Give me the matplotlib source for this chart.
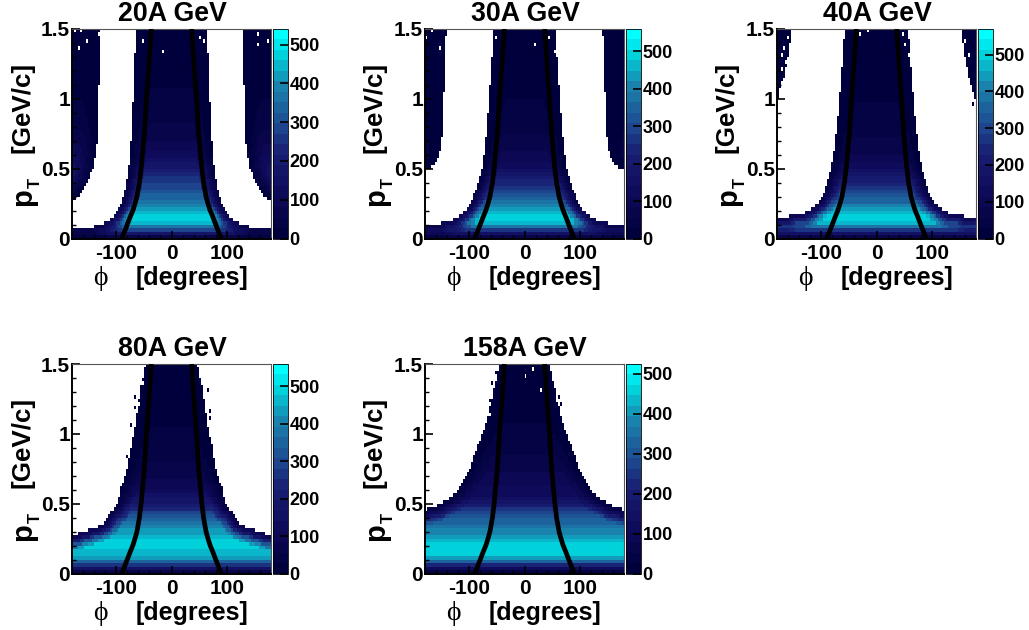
import numpy as np
import matplotlib
matplotlib.use("Agg")
import matplotlib.pyplot as plt
from matplotlib.colors import LinearSegmentedColormap, BoundaryNorm, ListedColormap

plt.rcParams['font.family'] = ['Liberation Sans', 'DejaVu Sans']
plt.rcParams['font.weight'] = 'bold'
plt.rcParams['axes.unicode_minus'] = False

titles = ["20A GeV", "30A GeV", "40A GeV", "80A GeV", "158A GeV"]
z_max = [540, 560, 570, 560, 525]

# bin size of the histogram cells
phi_bins = 100
pt_bins = 60

# density along pT in the central part, one value per 0.025 GeV/c row
profile_20 = [60, 170, 280, 370, 450, 480, 480, 440, 410, 385, 360, 340, 325, 310, 295, 280, 265, 250, 230, 210,
              185, 165, 145, 125, 110, 100, 92, 85, 78, 72, 66, 61, 56, 52, 48, 45, 42, 39, 36, 34,
              32, 30, 28, 26, 24, 23, 21, 20, 18, 17, 16, 14, 13, 12, 11, 10, 9, 8, 7, 7]
profile_30 = [60, 160, 270, 370, 460, 500, 500, 470, 430, 395, 365, 340, 310, 290, 270, 250, 230, 210, 185, 160,
              135, 120, 105, 95, 87, 80, 74, 68, 63, 58, 53, 49, 45, 42, 39, 36, 34, 32, 30, 28,
              26, 24, 23, 21, 20, 18, 17, 16, 15, 14, 13, 12, 11, 10, 9, 8, 7, 7, 6, 6]
profile_40 = [60, 170, 280, 380, 460, 500, 510, 480, 440, 400, 370, 345, 315, 290, 270, 250, 225, 205, 175, 150,
              130, 115, 100, 90, 82, 75, 70, 65, 60, 56, 52, 48, 44, 41, 38, 35, 33, 31, 29, 27,
              25, 24, 22, 21, 19, 18, 17, 16, 15, 14, 13, 12, 11, 10, 9, 8, 7, 7, 6, 6]
profile_80 = [60, 150, 260, 360, 420, 450, 470, 480, 490, 480, 460, 440, 420, 395, 370, 340, 310, 280, 250, 220,
              195, 170, 140, 120, 105, 95, 87, 80, 74, 68, 63, 58, 54, 50, 47, 44, 41, 38, 35, 33,
              31, 29, 27, 25, 23, 22, 20, 19, 17, 16, 15, 14, 13, 12, 11, 10, 9, 8, 8, 7]
profile_158 = [50, 130, 230, 330, 410, 450, 470, 470, 450, 420, 400, 385, 370, 355, 335, 315, 295, 270, 240, 200,
               170, 145, 130, 118, 108, 100, 93, 86, 80, 74, 68, 63, 58, 54, 50, 46, 43, 40, 37, 35,
               32, 30, 28, 26, 24, 22, 21, 19, 18, 16, 15, 14, 13, 12, 11, 10, 9, 8, 8, 7]

# half width of the central acceptance per row, 181 means the whole row is filled
inner_20 = [181, 181, 181, 140, 122, 112, 105, 100, 96, 93, 91, 89, 87, 85.5, 84, 83, 82, 81, 80, 79,
            78, 77, 76.5, 76, 75.5, 75, 74.5, 74, 73.5, 73, 73, 72.5, 72, 72, 71.5, 71, 71, 70.5, 70.5, 70,
            70, 69.5, 69.5, 69, 69, 68.5, 68.5, 68, 68, 67.5, 67.5, 67, 67, 66.5, 66.5, 66, 66, 65.5, 65.5, 65]
inner_30 = [181, 181, 181, 181, 150, 128, 118, 111, 106, 102, 98, 95, 92, 89.5, 87, 85, 83, 81.5, 80, 78.5,
            77, 76, 75, 74, 73, 72.5, 72, 71, 70.5, 70, 69.5, 69, 68.5, 68, 67.5, 67, 66.5, 66, 65.5, 65,
            65, 64.5, 64, 63.5, 63, 62.5, 62, 61.5, 61, 60.5, 60, 59.5, 59, 58.5, 58, 57.5, 57, 57, 56.5, 56]
inner_40 = [181, 181, 181, 181, 181, 181, 160, 130, 118, 110, 105, 101, 98, 95, 92.5, 90, 88.5, 87, 85.5, 84,
            83, 81.5, 80, 79, 78, 77, 76, 75, 74.5, 74, 73, 72.5, 72, 71, 70.5, 70, 69.5, 69, 68.5, 68,
            67.5, 67, 66.5, 66, 65.5, 65, 64.5, 64, 63.5, 63, 62.5, 62, 61.5, 61, 60.5, 60, 59.5, 59, 58.5, 58]
inner_80 = [181, 181, 181, 181, 181, 181, 181, 181, 181, 181, 181, 170, 150, 132, 124, 118, 114, 110, 106, 102,
            99, 97, 95, 93, 92, 89, 87, 85, 84, 82, 81, 79, 78, 77, 75, 74, 73, 72, 71, 70,
            68, 67, 66, 65, 65, 64, 63, 62, 62, 60, 59, 58, 56, 56, 54, 53, 52, 51, 49, 47]
inner_158 = [181, 181, 181, 181, 181, 181, 181, 181, 181, 181, 181, 181, 181, 181, 181, 181, 181, 181, 175, 160,
             147, 137, 128, 123, 119, 115, 111, 107, 104, 102, 99, 97, 95, 92, 90, 88, 85, 83, 80, 78,
             76, 73, 71, 69, 67, 66, 65, 64, 62, 60, 59, 57, 56, 55, 53, 52, 51, 50, 48, 46]

# where the outer wings start per row (top rows only, counted from the top end of the list)
outer_20 = [172, 166, 161, 157, 154, 151, 148, 146, 144, 142, 140, 139, 138, 137, 136, 135.5, 135, 134, 134, 133.5,
            133, 133, 133, 132.5, 132.5, 132.5, 132, 132, 132, 132, 131.5, 131.5, 131.5, 131, 131, 131, 131, 130.5, 130.5, 130.5,
            130.5, 130.5, 130, 130, 130, 130, 130, 130, 130]
outer_30 = [168, 163, 159, 156, 154, 152, 151, 150, 149.5, 149, 148.5, 148, 148, 147.5, 147.5, 147, 147, 146.5, 146.5, 146,
            146, 146, 145.5, 145.5, 145, 145, 144.5, 144.5, 144, 144, 144, 143.5, 143.5, 143, 143, 143, 142.5, 142.5, 142, 142]
outer_40 = [178, 176, 174, 172, 170, 168, 166, 165, 164, 163, 162, 161, 160, 159, 158, 157, 156, 155, 154, 154]
outer_80 = []
outer_158 = []

# density in the wings, same rows as the outer lists
wing_20 = [60, 80, 100, 120, 135, 145, 150, 150, 145, 140, 130, 120, 110, 100, 90, 82, 75, 68, 62, 56,
           52, 48, 44, 40, 37, 34, 32, 30, 28, 26, 24, 22, 21, 20, 19, 18, 17, 16, 15, 14,
           13, 12, 11, 10, 9, 9, 8, 8, 7]
wing_30 = [60, 55, 50, 46, 42, 40, 38, 35, 33, 31, 29, 27, 25, 24, 22, 21, 20, 18, 17, 16,
           15, 14, 13, 12, 11, 10, 9, 9, 8, 8, 7, 7, 6, 6, 6, 5, 5, 5, 5, 5]
wing_40 = [22, 20, 19, 18, 17, 16, 15, 14, 13, 12, 11, 10, 10, 9, 9, 8, 8, 7, 7, 6]
wing_80 = []
wing_158 = []

# empty cells inside the filled area
hole_phi_20 = [-176, -164, -152, -130, -167, -52, -15, 52, 60, 155, 158, 173]
hole_pt_20 = [1.48, 1.48, 1.41, 1.47, 1.35, 1.42, 1.33, 1.45, 1.41, 1.47, 1.40, 1.41]
hole_phi_30 = [-178, -166, -153, -53, 21, 55, 46]
hole_pt_30 = [1.43, 1.48, 1.35, 1.43, 1.40, 1.33, 1.43]
hole_phi_40 = [-160, -168, -170, -172, -165, -172, -175, -31, -16, 48, 54, 60, -61, 159, 168]
hole_pt_40 = [1.43, 1.36, 1.30, 1.22, 1.25, 1.12, 1.05, 1.47, 1.48, 1.47, 1.38, 1.30, 1.47, 1.42, 1.30]
hole_phi_80 = [-52, -58, -65, -70, 52, 60, 66, -80, 74]
hole_pt_80 = [1.36, 1.22, 1.13, 0.98, 1.42, 1.28, 1.12, 0.78, 0.95]
hole_phi_158 = [16, 1, 31, -62, 58]
hole_pt_158 = [1.46, 1.42, 1.31, 1.13, 1.23]

# isolated filled cells outside the filled area
stray_phi_20 = []
stray_pt_20 = []
stray_phi_30 = []
stray_pt_30 = []
stray_phi_40 = [174]
stray_pt_40 = [0.97]
stray_phi_80 = [-66, -68, -74, 68, 72, 70, -80, 75]
stray_pt_80 = [1.26, 1.18, 1.06, 1.30, 1.10, 1.17, 0.84, 0.92]
stray_phi_158 = [-59, -52, -62, 64, 65, 85, 91, 82, 76, -87, -90]
stray_pt_158 = [1.37, 1.45, 1.24, 1.27, 1.21, 0.80, 0.80, 0.885, 0.885, 0.855, 0.80]

# darkening close to the edge of the filled area, one step per 2 pixels
edge_fade = [0.2, 0.3, 0.42, 0.55, 0.68, 0.8, 0.9, 1.0]

# black curve, left branch
curve_phi = [-90, -85, -80, -74.5, -70, -66, -62.5, -58, -54.5, -51.5, -49, -45.5, -41, -36.5]
curve_pt = [0, 0.05, 0.1, 0.157, 0.2, 0.25, 0.3, 0.4, 0.516, 0.65, 0.755, 0.99, 1.23, 1.5]

profiles = [profile_20, profile_30, profile_40, profile_80, profile_158]
inners = [inner_20, inner_30, inner_40, inner_80, inner_158]
outers = [outer_20, outer_30, outer_40, outer_80, outer_158]
wings = [wing_20, wing_30, wing_40, wing_80, wing_158]
holes = [(hole_phi_20, hole_pt_20), (hole_phi_30, hole_pt_30), (hole_phi_40, hole_pt_40),
         (hole_phi_80, hole_pt_80), (hole_phi_158, hole_pt_158)]
strays = [(stray_phi_20, stray_pt_20), (stray_phi_30, stray_pt_30), (stray_phi_40, stray_pt_40),
          (stray_phi_80, stray_pt_80), (stray_phi_158, stray_pt_158)]

W, H = 1029, 630
# pixel boxes of the panels
ax_x = [72, 425, 777, 72, 425]
ax_top = [29, 29, 29, 364, 364]
ax_w = 199
ax_h = 209.5
cb_x = [273, 626, 978, 273, 626]
cb_w = 15

cmap_base = LinearSegmentedColormap.from_list("root", [(0, (0, 0, 60 / 255)),
                                                      (0.2, (15 / 255, 10 / 255, 90 / 255)),
                                                      (0.4, (25 / 255, 30 / 255, 115 / 255)),
                                                      (0.55, (30 / 255, 75 / 255, 145 / 255)),
                                                      (0.75, (25 / 255, 135 / 255, 175 / 255)),
                                                      (0.9, (0, 210 / 255, 220 / 255)),
                                                      (1, (0, 1, 1))])
cmap = ListedColormap(cmap_base(np.linspace(0, 1, 20)))
cmap.set_bad('white')

phi_edges = np.linspace(-180, 180, phi_bins + 1)
pt_edges = np.linspace(0, 1.5, pt_bins + 1)
phi_c = 0.5 * (phi_edges[:-1] + phi_edges[1:])
pt_c = 0.5 * (pt_edges[:-1] + pt_edges[1:])


def build_hist(k):
    inner = np.array(inners[k])
    outer = np.full(pt_bins, 999.0)
    wing = np.zeros(pt_bins)
    n = len(outers[k])
    if n:
        outer[pt_bins - n:] = outers[k]
        wing[pt_bins - n:] = wings[k]
    filled = np.zeros((pt_bins, phi_bins), dtype=bool)
    z = np.zeros((pt_bins, phi_bins))
    for i in range(pt_bins):
        central = np.abs(phi_c) < inner[i]
        out_part = np.abs(phi_c) >= outer[i]
        filled[i] = central | out_part
        z[i, central] = profiles[k][i]
        z[i, out_part] = wing[i]
    # distance in pixels to the nearest empty cell
    px, py = np.meshgrid(phi_c * ax_w / 360.0, pt_c * ax_h / 1.5)
    ex, ey = px[~filled], py[~filled]
    for i in range(pt_bins):
        for j in range(phi_bins):
            if filled[i, j] and len(ex):
                d = np.sqrt(((ex - px[i, j]) ** 2 + (ey - py[i, j]) ** 2).min())
                z[i, j] *= edge_fade[min(int(d / 2) - 1, len(edge_fade) - 1)] if d >= 2 else edge_fade[0]
    for p, t in zip(*holes[k]):
        filled[min(int(t / 0.025), pt_bins - 1), np.searchsorted(phi_edges, p) - 1] = False
    for p, t in zip(*strays[k]):
        i, j = min(int(t / 0.025), pt_bins - 1), np.searchsorted(phi_edges, p) - 1
        filled[i, j] = True
        z[i, j] = 15
    return np.ma.masked_where(~filled, z)


fig = plt.figure(figsize=(W / 100, H / 100), dpi=100)

for k in range(5):
    x0, y0 = ax_x[k], ax_top[k]
    ax = fig.add_axes([x0 / W, 1 - (y0 + ax_h) / H, ax_w / W, ax_h / H])
    levels = np.linspace(0, z_max[k], 21)
    norm = BoundaryNorm(levels, 20)
    mesh = ax.pcolormesh(phi_edges, pt_edges, build_hist(k), cmap=cmap, norm=norm, antialiased=False)
    ax.plot(curve_phi, curve_pt, color='black', lw=3.4, solid_capstyle='butt', zorder=5)
    ax.plot(-np.array(curve_phi), curve_pt, color='black', lw=3.4, solid_capstyle='butt', zorder=5)
    ax.set_xlim(-180, 180)
    ax.set_ylim(0, 1.5)
    ax.set_xticks([-100, 0, 100])
    ax.set_xticks(np.arange(-160, 161, 20), minor=True)
    ax.set_yticks([0, 0.5, 1, 1.5])
    ax.set_yticklabels(['0', '0.5', '1', '1.5'])
    ax.set_yticks(np.arange(0, 1.5, 0.1), minor=True)
    ax.tick_params(axis='both', which='major', direction='in', length=6, width=1.2, labelsize=15)
    ax.tick_params(axis='both', which='minor', direction='in', length=3, width=1)
    ax.tick_params(axis='y', which='major', pad=1.5)
    ax.tick_params(axis='x', which='major', pad=4)
    for side in ['left', 'bottom']:
        ax.spines[side].set_linewidth(1.4)
    for side in ['top', 'right']:
        ax.spines[side].set_linewidth(0.8)
        ax.spines[side].set_color('#555555')

    cax = fig.add_axes([cb_x[k] / W, 1 - (y0 + ax_h) / H, cb_w / W, ax_h / H])
    cb = fig.colorbar(mesh, cax=cax, spacing='proportional')
    cb.set_ticks(np.arange(0, z_max[k], 100))
    cb.ax.minorticks_off()
    cb.ax.tick_params(direction='in', length=6, width=1.2, labelsize=13, pad=1)
    cb.outline.set_linewidth(0.6)

    # labels sit at fixed pixel offsets from the panel
    def put(px, py, s, **kw):
        fig.text(px / W, 1 - py / H, s, ha='center', va='center', **kw)

    put(x0 + 100, y0 - 15, titles[k], fontsize=19.3)
    put(x0 + 120, y0 + ax_h + 39.5, "[degrees]", fontsize=18)
    put(x0 + 28, y0 + ax_h + 40, "\u03d5", fontsize=20, family='Liberation Serif', weight='normal')
    put(x0 - 50, y0 + 78, "[GeV/c]", fontsize=18.7, rotation=90)
    put(x0 - 49, y0 + 168, "p", fontsize=21, rotation=90)
    put(x0 - 37, y0 + 154, "T", fontsize=12, rotation=90)

fig.savefig("out.png", dpi=100)
